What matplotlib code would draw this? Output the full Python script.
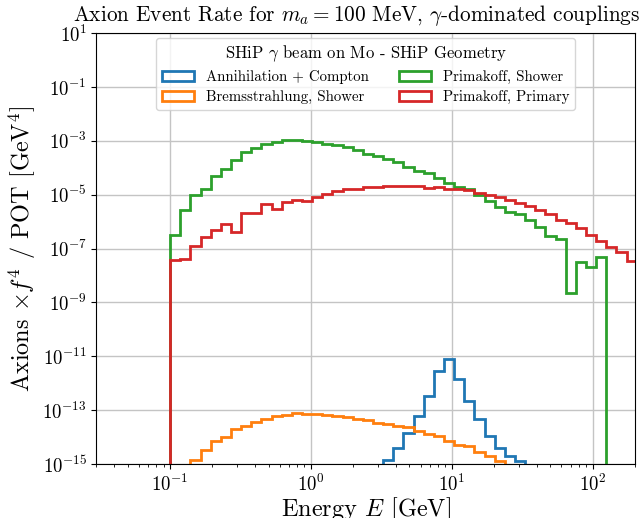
import matplotlib
matplotlib.use("Agg")
import matplotlib.pyplot as plt
import numpy as np

# energy bins: 50 log bins from 0.1 to 400 GeV
n_bins = 50
e_min, e_max = 0.1, 400.0

# log10 of event rate per bin (None = empty bin)
annihilation_compton = [None] * 21 + [
    -14.85, -14.42, -13.84, -13.22, -12.48, -11.54, -11.11, -11.84,
    -12.65, -13.34, -13.96, -14.42, -14.70, -14.88] + [None] * 15
bremsstrahlung = [None, None,
    -14.85, -14.48, -14.15, -13.99, -13.71, -13.58, -13.43, -13.32,
    -13.22, -13.17, -13.12, -13.13, -13.15, -13.18, -13.22, -13.27,
    -13.34, -13.37, -13.47, -13.51, -13.59, -13.64, -13.78, -13.90,
    -13.96, -14.14, -14.29, -14.33, -14.54, -14.70, -14.89] + [None] * 17
primakoff_shower = [
    -6.50, -5.57, -5.01, -4.77, -4.31, -4.06, -3.72, -3.43, -3.28, -3.13,
    -3.04, -2.97, -2.95, -3.00, -3.04, -3.10, -3.17, -3.24, -3.34, -3.47,
    -3.57, -3.67, -3.80, -3.96, -4.11, -4.21, -4.39, -4.58, -4.73, -4.79,
    -5.01, -5.23, -5.47, -5.64, -5.73, -5.92, -6.19, -6.54, -6.66, -8.66,
    -7.49, -7.70, -7.33] + [None] * 7
primakoff_primary = [
    -7.43, -7.38, -6.91, -6.58, -6.31, -6.10, -6.38, -5.69, -5.66, -5.35,
    -5.54, -5.26, -5.20, -5.23, -5.10, -4.98, -4.87, -4.80, -4.77, -4.71,
    -4.71, -4.69, -4.68, -4.69, -4.68, -4.74, -4.72, -4.80, -4.77, -4.83,
    -4.93, -5.01, -5.10, -5.20, -5.32, -5.42, -5.57, -5.73, -5.92, -6.04,
    -6.25, -6.50, -6.71, -6.93, -7.12, -7.45, -7.75, -8.05, -8.40, -8.80]

labels = ["Annihilation + Compton", "Bremsstrahlung, Shower",
          "Primakoff, Shower", "Primakoff, Primary"]
colors = ["tab:blue", "tab:orange", "tab:green", "tab:red"]


def to_rate(logs):
    return np.array([0.0 if v is None else 10.0 ** v for v in logs])


plt.rcParams["font.family"] = "serif"
plt.rcParams["font.serif"] = ["cmr10"]
plt.rcParams["mathtext.fontset"] = "cm"
plt.rcParams["axes.formatter.use_mathtext"] = True

edges = np.logspace(np.log10(e_min), np.log10(e_max), n_bins + 1)
centers = np.sqrt(edges[:-1] * edges[1:])

fig = plt.figure(figsize=(6.41, 5.18), dpi=100)
ax = fig.add_subplot(1, 1, 1)
fig.subplots_adjust(left=0.1505, right=0.9906, bottom=0.1042, top=0.936)

series = [annihilation_compton, bremsstrahlung, primakoff_shower, primakoff_primary]
for data, lab, col in zip(series, labels, colors):
    ax.hist(centers, bins=edges, weights=to_rate(data), histtype="step",
            lw=2, color=col, label=lab, log=True)

ax.set_xscale("log")
ax.set_yscale("log")
ax.set_xlim(0.03, 200)
ax.set_ylim(1e-15, 1e1)
ax.set_yticks([10.0 ** k for k in range(1, -16, -2)])
ax.yaxis.set_minor_locator(matplotlib.ticker.NullLocator())
ax.tick_params(labelsize=13.5)
ax.grid(True, which="major", color="#c4c4c4", lw=1.0)

ax.set_xlabel(r"Energy $E$ [GeV]", fontsize=17.5, labelpad=0)
ax.set_ylabel(r"Axions $\times f^4$ / POT [GeV$^4$]", fontsize=17.5, labelpad=3)
ax.set_title(r"Axion Event Rate for $m_a = 100$ MeV, $\gamma$-dominated couplings",
             fontsize=15.3, pad=9, x=0.484)

ax.legend(loc="upper center", ncol=2, fontsize=10.7, handlelength=2.15,
          labelspacing=0.4, borderaxespad=0.3,
          title=r"SHiP $\gamma$ beam on Mo - SHiP Geometry", title_fontsize=12)

fig.savefig("out.png", dpi=100)
